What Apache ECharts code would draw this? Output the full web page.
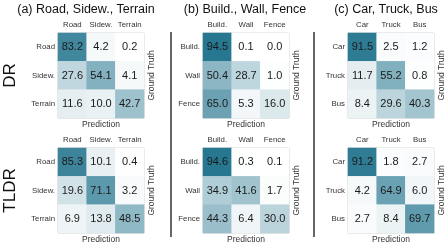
<!DOCTYPE html>
<html><head><meta charset="utf-8">
<script src="https://cdn.jsdelivr.net/npm/echarts@6/dist/echarts.min.js"></script>
<style>html,body{margin:0;padding:0;background:#fff}#c{width:447px;height:246px}</style>
</head><body><div id="c"></div>
<script>
const panelTitles = ['(a) Road, Sidew., Terrain', '(b) Build., Wall, Fence', '(c) Car, Truck, Bus'];
const rowNames = ['DR', 'TLDR'];
const classesA = ['Road', 'Sidew.', 'Terrain'];
const classesB = ['Build.', 'Wall', 'Fence'];
const classesC = ['Car', 'Truck', 'Bus'];
const drA = [[83.2, 4.2, 0.2], [27.6, 54.1, 4.1], [11.6, 10.0, 42.7]];
const drB = [[94.5, 0.1, 0.0], [50.4, 28.7, 1.0], [65.0, 5.3, 16.0]];
const drC = [[91.5, 2.5, 1.2], [11.7, 55.2, 0.8], [8.4, 29.6, 40.3]];
const tldrA = [[85.3, 10.1, 0.4], [19.6, 71.1, 3.2], [6.9, 13.8, 48.5]];
const tldrB = [[94.6, 0.3, 0.1], [34.9, 41.6, 1.7], [44.3, 6.4, 30.0]];
const tldrC = [[91.2, 1.8, 2.7], [4.2, 64.9, 6.0], [2.7, 8.4, 69.7]];

const FONT = '"Liberation Sans", Arial, sans-serif';
const classes = [classesA, classesB, classesC];
const mats = [[drA, drB, drC], [tldrA, tldrB, tldrC]];
const lefts = [58, 203, 348];
const tops = [33, 148];
const W = 86, H = 85;

const grid = [], xAxis = [], yAxis = [], series = [], graphic = [];
let idx = 0;
for (let r = 0; r < 2; r++) {
  for (let p = 0; p < 3; p++) {
    grid.push({left: lefts[p], top: tops[r], width: W, height: H, show: true,
      borderColor: '#cccccc', borderWidth: 1, backgroundColor: 'transparent'});
    xAxis.push({type: 'category', gridIndex: idx, data: classes[p], position: 'top',
      axisLine: {show: false}, axisTick: {show: false}, splitLine: {show: false},
      axisLabel: {interval: 0, hideOverlap: false, fontSize: 7.8, color: '#333', margin: 4, fontFamily: FONT}});
    yAxis.push({type: 'category', gridIndex: idx, data: classes[p], inverse: true,
      axisLine: {show: false}, axisTick: {show: false}, splitLine: {show: false},
      axisLabel: {interval: 0, hideOverlap: false, fontSize: 7.8, color: '#333', margin: 3, fontFamily: FONT}});
    const data = [];
    mats[r][p].forEach((row, i) => row.forEach((v, j) => data.push([j, i, v])));
    series.push({type: 'heatmap', xAxisIndex: idx, yAxisIndex: idx, data: data,
      label: {show: true, fontSize: 11, color: '#1a1a1a', fontFamily: FONT,
        formatter: o => o.value[2].toFixed(1)},
      emphasis: {disabled: true}});
    graphic.push({type: 'text', x: lefts[p] + W / 2, y: tops[r] + H + 7,
      style: {text: 'Prediction', font: '8.5px ' + FONT, fill: '#333', textAlign: 'center', textVerticalAlign: 'middle'}});
    graphic.push({type: 'text', x: lefts[p] + W + 8, y: tops[r] + H / 2, rotation: Math.PI / 2,
      style: {text: 'Ground Truth', font: '8.5px ' + FONT, fill: '#333', textAlign: 'center', textVerticalAlign: 'middle'}});
    idx++;
  }
}
const titleCenters = [86, 245, 386];
panelTitles.forEach((t, p) => graphic.push({type: 'text', x: titleCenters[p], y: 10,
  style: {text: t, font: '12.5px ' + FONT, fill: '#111', textAlign: 'center', textVerticalAlign: 'middle'}}));
rowNames.forEach((t, r) => graphic.push({type: 'text', x: 10, y: tops[r] + H / 2, rotation: Math.PI / 2,
  style: {text: t, font: '17px ' + FONT, fill: '#111', textAlign: 'center', textVerticalAlign: 'middle'}}));
[171, 314].forEach(x => graphic.push({type: 'line', shape: {x1: x, y1: 32, x2: x, y2: 237},
  style: {stroke: '#333', lineWidth: 1.5}}));

const chart = echarts.init(document.getElementById('c'), null, {renderer: 'canvas'});
chart.setOption({
  animation: false,
  grid, xAxis, yAxis, series, graphic,
  visualMap: {show: false, min: 0, max: 100, seriesIndex: [0,1,2,3,4,5],
    inRange: {color: ['#ffffff', '#1b6f8a']}}
});
</script></body></html>
